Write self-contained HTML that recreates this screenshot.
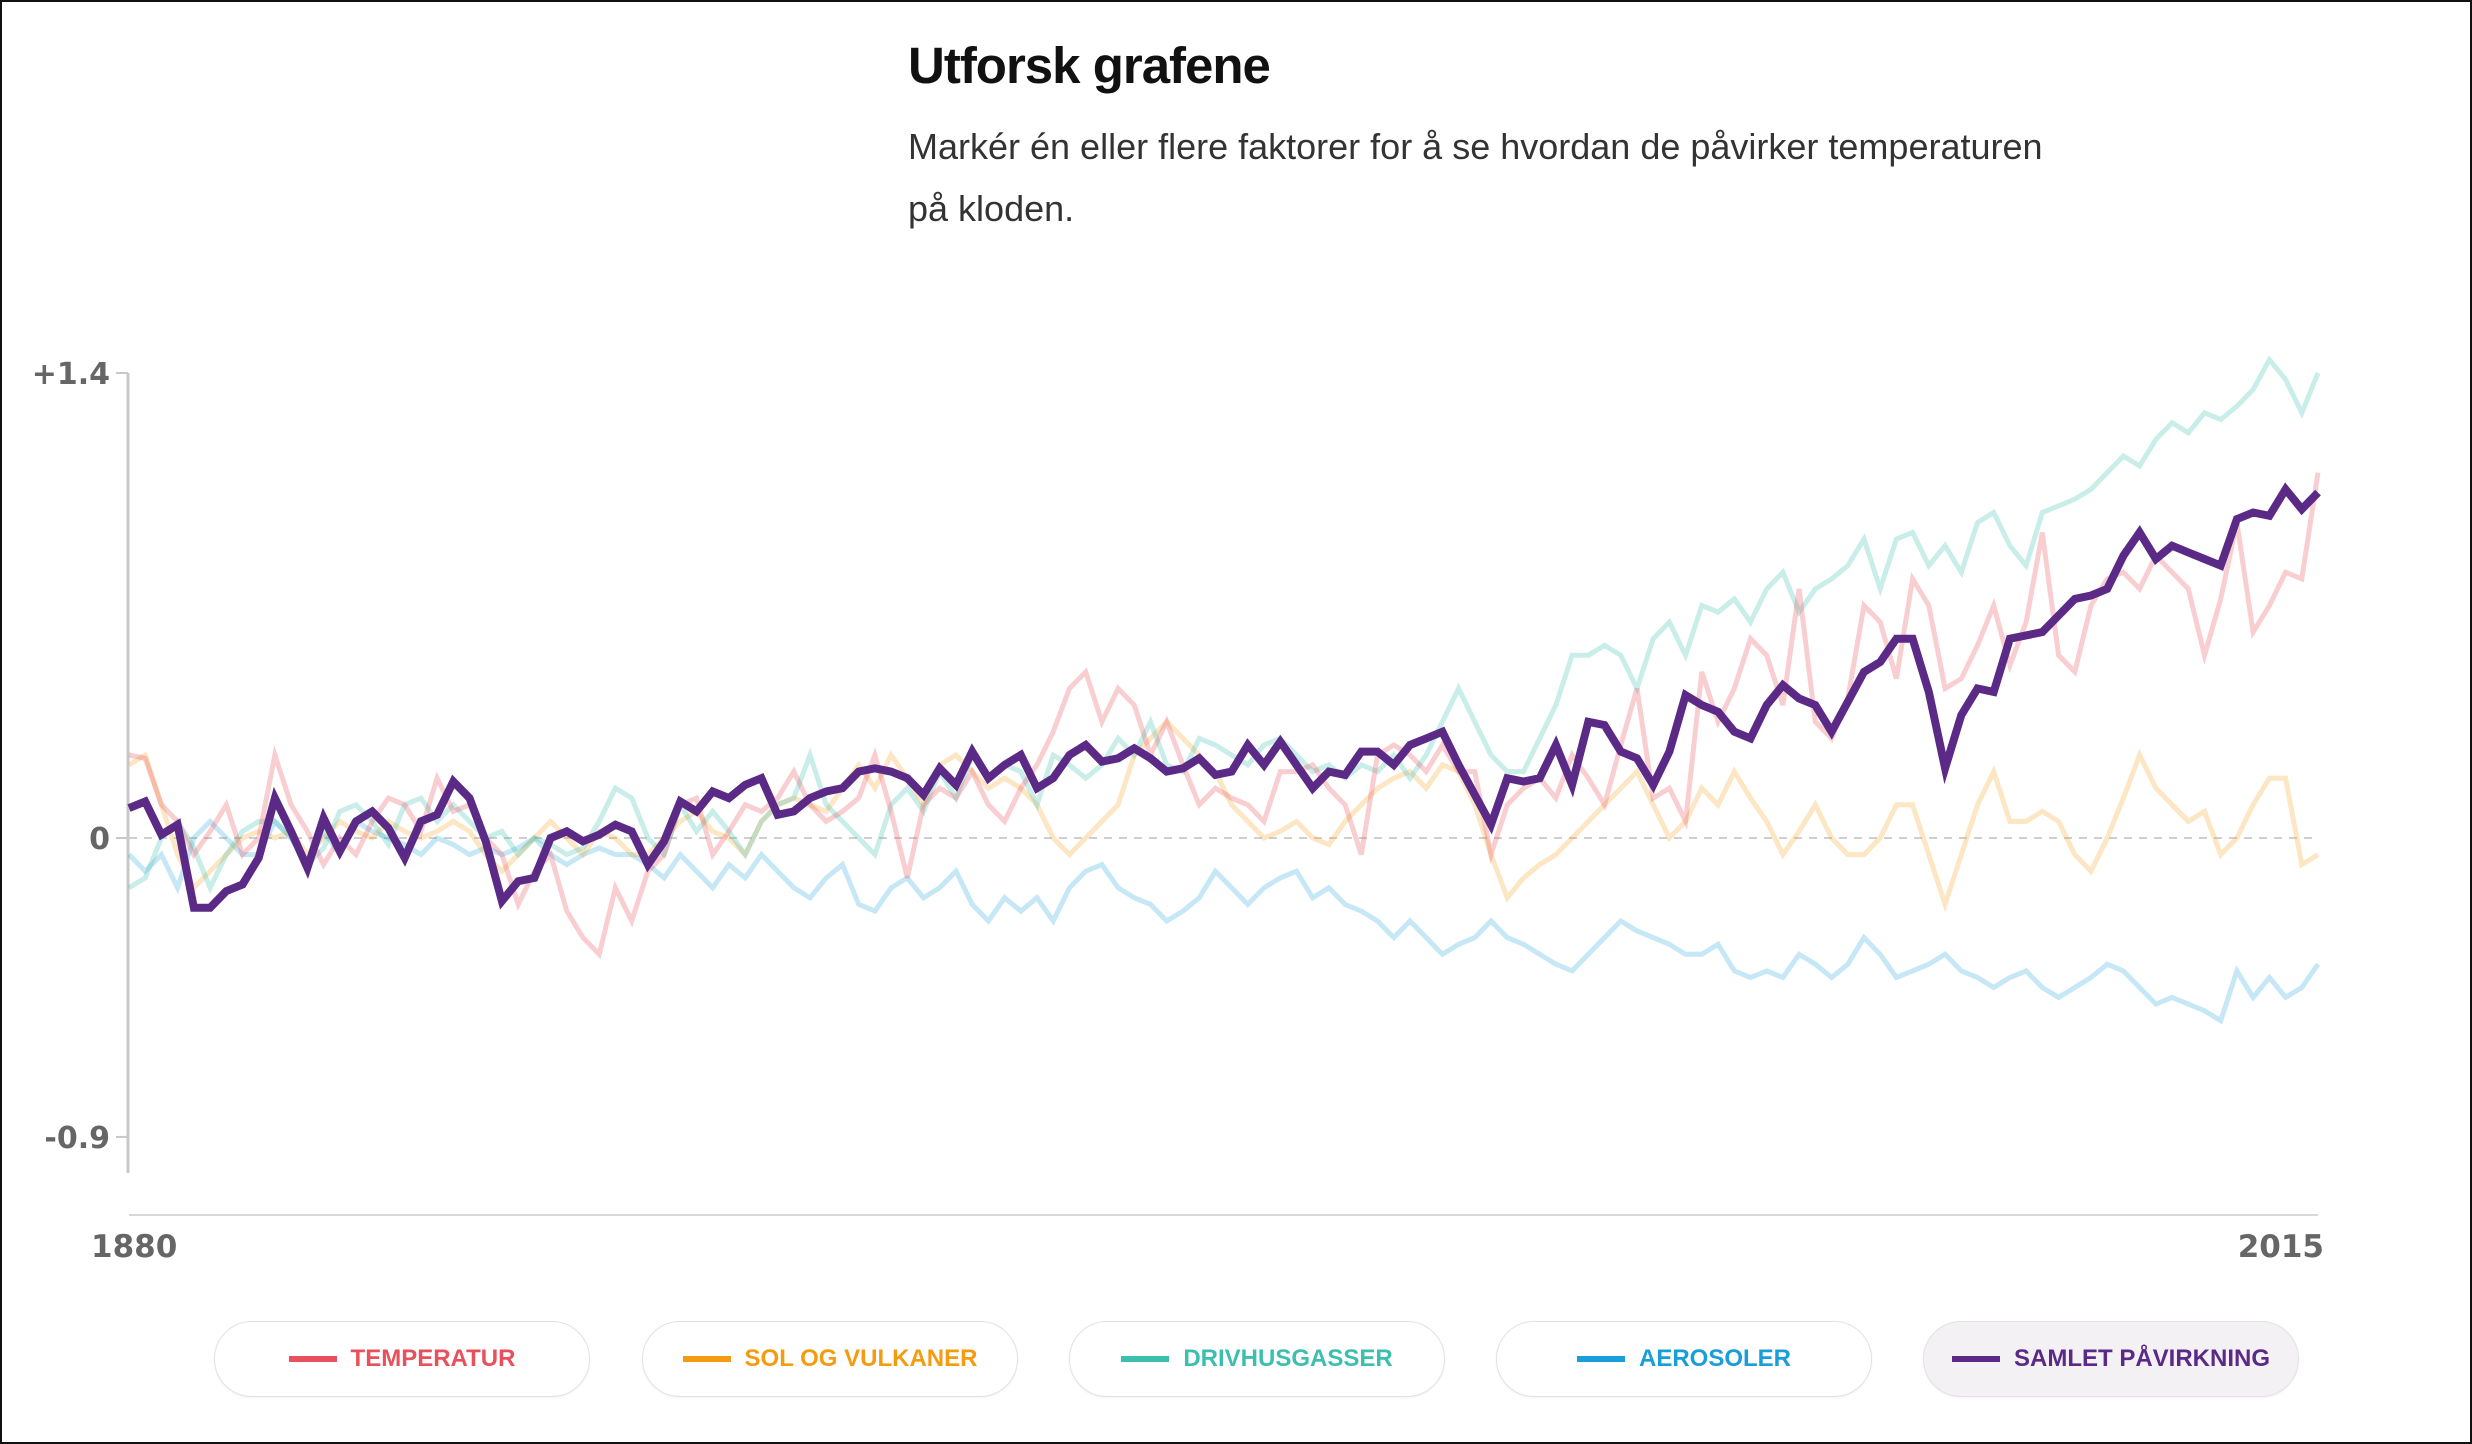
<!DOCTYPE html>
<html><head><meta charset="utf-8">
<style>
html,body{margin:0;padding:0;background:#fff;}
body{width:2472px;height:1444px;position:relative;overflow:hidden;font-family:"Liberation Sans",sans-serif;}
#frame{position:absolute;left:0;top:0;width:2468px;height:1440px;border:2px solid #111;}
h1{position:absolute;left:908px;top:36px;margin:0;font-size:51px;font-weight:bold;color:#111;letter-spacing:-1px;}
p.sub{position:absolute;left:908px;top:116px;margin:0;width:1170px;font-size:36px;line-height:62px;color:#333;}
.btn{position:absolute;top:1321px;width:374px;height:74px;border:1px solid #e2e2e2;border-radius:38px;background:#fff;display:flex;align-items:center;justify-content:center;font-weight:bold;font-size:24px;box-shadow:0 1px 2px rgba(0,0,0,0.05);}
.btn span.m{display:inline-block;width:48px;height:6px;margin-right:14px;}
</style></head><body>
<div id="frame"></div>
<h1>Utforsk grafene</h1>
<p class="sub">Markér én eller flere faktorer for å se hvordan de påvirker temperaturen på kloden.</p>
<svg id="chart" width="2472" height="1444" style="position:absolute;left:0;top:0"></svg>
<div class="btn" style="left:214px;color:#e8505b"><span class="m" style="background:#e8505b"></span>TEMPERATUR</div>
<div class="btn" style="left:642px;color:#f39c12"><span class="m" style="background:#f39c12"></span>SOL OG VULKANER</div>
<div class="btn" style="left:1069px;color:#3dbfb0"><span class="m" style="background:#3dbfb0"></span>DRIVHUSGASSER</div>
<div class="btn" style="left:1496px;color:#1a9ed9"><span class="m" style="background:#1a9ed9"></span>AEROSOLER</div>
<div class="btn" style="left:1923px;color:#5b2a86;background:#f3f1f3"><span class="m" style="background:#5b2a86"></span>SAMLET PÅVIRKNING</div>
<script>
const startYear = 1880, endYear = 2015;
const yTicks = [1.4, 0, -0.9];
const yTickLabels = ["+1.4", "0", "-0.9"];
const xTickLabels = ["1880", "2015"];
const temperatur = [0.25,0.24,0.10,0.05,-0.05,0.02,0.10,-0.05,0.00,0.25,
0.10,0.02,-0.08,0.0,-0.05,0.05,0.12,0.10,0.02,0.18,
0.08,0.10,0.00,-0.05,-0.20,-0.10,-0.05,-0.22,-0.30,-0.35,
-0.15,-0.25,-0.10,-0.05,0.10,0.12,-0.05,0.02,0.10,0.08,
0.12,0.20,0.10,0.05,0.08,0.12,0.25,0.08,-0.12,0.10,
0.15,0.12,0.20,0.10,0.05,0.15,0.22,0.32,0.45,0.50,
0.35,0.45,0.40,0.25,0.35,0.22,0.10,0.15,0.12,0.10,
0.05,0.20,0.20,0.22,0.15,0.10,-0.05,0.25,0.28,0.25,
0.20,0.28,0.20,0.20,-0.05,0.10,0.15,0.18,0.12,0.25,
0.18,0.10,0.28,0.45,0.12,0.15,0.05,0.50,0.35,0.45,
0.60,0.55,0.40,0.75,0.35,0.30,0.42,0.70,0.65,0.48,
0.78,0.70,0.45,0.48,0.58,0.70,0.52,0.65,0.92,0.55,
0.50,0.70,0.78,0.80,0.75,0.85,0.80,0.75,0.55,0.72,
0.95,0.62,0.70,0.80,0.78,1.10];
const solVulkaner = [0.22,0.25,0.10,-0.05,-0.15,-0.10,-0.05,0.0,0.02,0.0,
0.02,-0.05,0.0,0.05,0.02,0.0,0.05,0.02,0.0,0.02,
0.05,0.02,-0.05,-0.10,-0.05,0.0,0.05,0.0,-0.05,0.02,
0.0,-0.05,-0.05,0.0,0.05,0.08,0.02,0.0,-0.05,0.05,
0.10,0.12,0.10,0.08,0.15,0.22,0.15,0.25,0.18,0.10,
0.22,0.25,0.20,0.15,0.18,0.15,0.10,0.0,-0.05,0.0,
0.05,0.10,0.25,0.30,0.35,0.30,0.25,0.20,0.10,0.05,
0.0,0.02,0.05,0.0,-0.02,0.05,0.10,0.15,0.18,0.20,
0.15,0.22,0.20,0.10,-0.05,-0.18,-0.12,-0.08,-0.05,0.0,
0.05,0.10,0.15,0.20,0.10,0.0,0.05,0.15,0.10,0.20,
0.12,0.05,-0.05,0.02,0.10,0.0,-0.05,-0.05,0.0,0.10,
0.10,-0.05,-0.20,-0.05,0.10,0.20,0.05,0.05,0.08,0.05,
-0.05,-0.10,0.0,0.12,0.25,0.15,0.10,0.05,0.08,-0.05,
0.0,0.10,0.18,0.18,-0.08,-0.05];
const drivhusgasser = [-0.15,-0.12,0.0,0.05,-0.03,-0.15,-0.05,0.02,0.05,0.05,
0.0,-0.08,-0.03,0.08,0.10,0.05,-0.02,0.10,0.12,0.05,
0.10,0.05,0.0,0.02,-0.05,0.0,-0.02,-0.05,-0.03,0.05,
0.15,0.12,0.0,-0.05,0.10,0.02,0.08,0.02,-0.05,0.05,
0.10,0.12,0.25,0.10,0.05,0.0,-0.05,0.10,0.15,0.08,
0.20,0.12,0.25,0.18,0.22,0.20,0.10,0.25,0.22,0.18,
0.22,0.30,0.25,0.35,0.22,0.20,0.30,0.28,0.25,0.22,
0.28,0.30,0.25,0.20,0.22,0.18,0.22,0.20,0.25,0.18,
0.25,0.35,0.45,0.35,0.25,0.20,0.20,0.30,0.40,0.55,
0.55,0.58,0.55,0.45,0.60,0.65,0.55,0.70,0.68,0.72,
0.65,0.75,0.80,0.68,0.75,0.78,0.82,0.90,0.75,0.90,
0.92,0.82,0.88,0.80,0.95,0.98,0.88,0.82,0.98,1.00,
1.02,1.05,1.10,1.15,1.12,1.20,1.25,1.22,1.28,1.26,
1.30,1.35,1.44,1.38,1.28,1.40];
const aerosoler = [-0.05,-0.10,-0.05,-0.15,0.0,0.05,0.0,-0.05,-0.05,0.05,
0.0,-0.08,0.02,-0.05,0.05,0.02,0.0,-0.02,-0.05,0.0,
-0.02,-0.05,-0.03,-0.05,-0.03,0.0,-0.05,-0.08,-0.05,-0.03,
-0.05,-0.05,-0.08,-0.12,-0.05,-0.10,-0.15,-0.08,-0.12,-0.05,
-0.10,-0.15,-0.18,-0.12,-0.08,-0.20,-0.22,-0.15,-0.12,-0.18,
-0.15,-0.10,-0.20,-0.25,-0.18,-0.22,-0.18,-0.25,-0.15,-0.10,
-0.08,-0.15,-0.18,-0.20,-0.25,-0.22,-0.18,-0.10,-0.15,-0.20,
-0.15,-0.12,-0.10,-0.18,-0.15,-0.20,-0.22,-0.25,-0.30,-0.25,
-0.30,-0.35,-0.32,-0.30,-0.25,-0.30,-0.32,-0.35,-0.38,-0.40,
-0.35,-0.30,-0.25,-0.28,-0.30,-0.32,-0.35,-0.35,-0.32,-0.40,
-0.42,-0.40,-0.42,-0.35,-0.38,-0.42,-0.38,-0.30,-0.35,-0.42,
-0.40,-0.38,-0.35,-0.40,-0.42,-0.45,-0.42,-0.40,-0.45,-0.48,
-0.45,-0.42,-0.38,-0.40,-0.45,-0.50,-0.48,-0.50,-0.52,-0.55,
-0.40,-0.48,-0.42,-0.48,-0.45,-0.38];
const samlet = [0.09,0.11,0.01,0.04,-0.21,-0.21,-0.16,-0.14,-0.06,0.12,
0.02,-0.09,0.06,-0.04,0.05,0.08,0.03,-0.06,0.05,0.07,
0.17,0.12,-0.01,-0.19,-0.13,-0.12,0.0,0.02,-0.01,0.01,
0.04,0.02,-0.08,-0.01,0.11,0.08,0.14,0.12,0.16,0.18,
0.07,0.08,0.12,0.14,0.15,0.20,0.21,0.20,0.18,0.13,
0.21,0.16,0.26,0.18,0.22,0.25,0.15,0.18,0.25,0.28,
0.23,0.24,0.27,0.24,0.20,0.21,0.24,0.19,0.20,0.28,
0.22,0.29,0.22,0.15,0.20,0.19,0.26,0.26,0.22,0.28,
0.30,0.32,0.22,0.13,0.04,0.18,0.17,0.18,0.28,0.16,
0.35,0.34,0.26,0.24,0.16,0.26,0.43,0.40,0.38,0.32,
0.30,0.40,0.46,0.42,0.40,0.32,0.41,0.50,0.53,0.60,
0.60,0.44,0.21,0.37,0.45,0.44,0.60,0.61,0.62,0.67,
0.72,0.73,0.75,0.85,0.92,0.84,0.88,0.86,0.84,0.82,
0.96,0.98,0.97,1.05,0.99,1.04];

const NS = "http://www.w3.org/2000/svg";
const svg = document.getElementById('chart');
const X0 = 129, X1 = 2318, YTOP = 373, YZERO = 838, YBOT = 1173;
function xScale(i){ return X0 + (X1 - X0) * i / (endYear - startYear); }
function yScale(v){ return YZERO - v * (YZERO - YTOP) / 1.4; }
function mk(tag, attrs){ const e = document.createElementNS(NS, tag); for (const k in attrs) e.setAttribute(k, attrs[k]); svg.appendChild(e); return e; }

let yAxis = mk('line', {x1:128, y1:YTOP, x2:128, y2:YBOT, stroke:'#c8c8c8', 'stroke-width':3});


let xAxis = mk('line', {x1:X0, y1:1215, x2:X1, y2:1215, stroke:'#d8d8d8', 'stroke-width':2});


let zl = mk('line', {x1:X0, y1:yScale(0), x2:X1, y2:yScale(0), stroke:'#cfcfcf', 'stroke-width':2, 'stroke-dasharray':'8 7'});



yTicks.forEach((v, i) => {
  const y = yScale(v);
  const tk = mk('line', {x1:116, y1:y, x2:128, y2:y, stroke:'#c8c8c8', 'stroke-width':2});
  
  
  const t = mk('text', {x:110, y:y + 11, 'text-anchor':'end', 'font-family':'DejaVu Sans, sans-serif', 'font-weight':'bold', 'font-size':30, fill:'#666'});
  t.textContent = yTickLabels[i];
  
  
});
xTickLabels.forEach((lab, i) => {
  const t = mk('text', {x: i === 0 ? X0 - 38 : X1 + 6, y:1257, 'text-anchor': i === 0 ? 'start' : 'end', 'font-family':'DejaVu Sans, sans-serif', 'font-weight':'bold', 'font-size':31, fill:'#666'});
  t.textContent = lab;
  
  
});

function drawSeries(arr, color, width, opacity, name){
  const d = arr.map((v, i) => (i ? 'L' : 'M') + xScale(i).toFixed(1) + ' ' + yScale(v).toFixed(1)).join(' ');
  const p = mk('path', {d:d, fill:'none', stroke:color, 'stroke-width':width, 'stroke-opacity':opacity, 'stroke-linejoin':'miter'});
  
  
}
drawSeries(aerosoler, '#1a9ed9', 5, 0.25, 'aerosoler-line');
drawSeries(solVulkaner, '#f39c12', 5, 0.25, 'sol-og-vulkaner-line');
drawSeries(drivhusgasser, '#3dbfb0', 5, 0.28, 'drivhusgasser-line');
drawSeries(temperatur, '#e8505b', 5, 0.28, 'temperatur-line');
drawSeries(samlet, '#5b2a86', 8, 1, 'samlet-pavirkning-line');
</script>
</body></html>
